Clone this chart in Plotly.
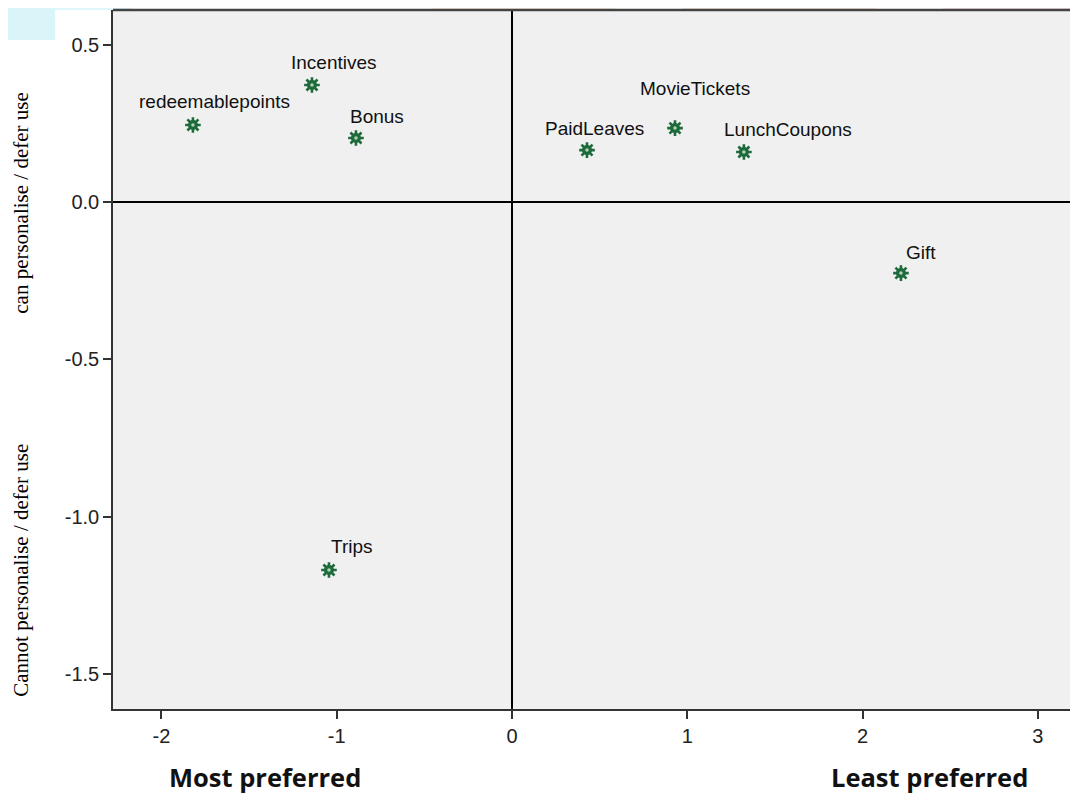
import plotly.graph_objects as go

labels = ["redeemablepoints", "Incentives", "Bonus", "PaidLeaves", "MovieTickets",
          "LunchCoupons", "Gift", "Trips"]
dim1 = [-1.82, -1.141, -0.890, 0.428, 0.930, 1.323, 2.219, -1.044]
dim2 = [0.245, 0.372, 0.2035, 0.165, 0.235, 0.159, -0.226, -1.170]
# label offsets in pixels (x, y)
label_dx = [22, 22, 21, 7, 20, 44, 20, 23]
label_dy = [23, 23, 22, 22, 40, 23, 21, 23]

x_ticks = [-2, -1, 0, 1, 2, 3]
y_ticks = [0.5, 0.0, -0.5, -1.0, -1.5]

green = "#1d6b3a"
fig = go.Figure()
fig.add_trace(go.Scatter(x=dim1, y=dim2, mode="markers", hoverinfo="skip",
                         marker=dict(symbol="asterisk-open", size=13, color=green,
                                     line=dict(color=green, width=2.6))))
fig.add_trace(go.Scatter(x=dim1, y=dim2, mode="markers",
                         marker=dict(symbol="circle", size=10, color=green,
                                     line=dict(width=0))))
fig.add_trace(go.Scatter(x=dim1, y=dim2, mode="markers", hoverinfo="skip",
                         marker=dict(symbol="circle", size=3.5, color="#b5d2bd",
                                     line=dict(width=0))))

for lab, x, y, dx, dy in zip(labels, dim1, dim2, label_dx, label_dy):
    fig.add_annotation(x=x, y=y, text=lab, showarrow=False, xshift=dx, yshift=dy,
                       font=dict(family="Liberation Sans, Arial", size=19, color="#111"))

# axis title annotations
fig.add_annotation(xref="paper", yref="paper", x=-0.0955, y=0.724, text="can personalise / defer use",
                   textangle=-90, showarrow=False, xanchor="center", yanchor="middle",
                   font=dict(family="Liberation Serif, Times New Roman", size=21, color="#000"))
fig.add_annotation(xref="paper", yref="paper", x=-0.0955, y=0.199, text="Cannot personalise / defer use",
                   textangle=-90, showarrow=False, xanchor="center", yanchor="middle",
                   font=dict(family="Liberation Serif, Times New Roman", size=21, color="#000"))
fig.add_annotation(xref="paper", yref="paper", x=0.1575, y=-0.0973, text="<b>Most preferred</b>",
                   showarrow=False, xanchor="center", yanchor="middle",
                   font=dict(family="Open Sans", size=25.5, color="#111"))
fig.add_annotation(xref="paper", yref="paper", x=0.8466, y=-0.0973, text="<b>Least preferred</b>",
                   showarrow=False, xanchor="center", yanchor="middle",
                   font=dict(family="Open Sans", size=25.5, color="#111"))

# top border of the plot frame
fig.add_shape(type="line", xref="paper", yref="paper", x0=0, x1=1, y0=1, y1=1,
              line=dict(color="#444", width=2.5))
# faint slide background blobs at the top
fig.add_shape(type="rect", xref="paper", yref="paper", x0=-0.117, x1=-0.06, y0=0.957, y1=1.0143,
              fillcolor="rgba(150,225,240,0.35)", line=dict(width=0), layer="below")
fig.add_shape(type="rect", xref="paper", yref="paper", x0=-0.06, x1=0.02, y0=1.0, y1=1.0143,
              fillcolor="rgba(150,225,240,0.3)", line=dict(width=0), layer="below")
fig.add_shape(type="rect", xref="paper", yref="paper", x0=0.33, x1=0.52, y0=1.0, y1=1.0143,
              fillcolor="rgba(250,205,170,0.35)", line=dict(width=0), layer="below")
fig.add_shape(type="rect", xref="paper", yref="paper", x0=0.59, x1=0.79, y0=1.0, y1=1.0143,
              fillcolor="rgba(250,190,170,0.35)", line=dict(width=0), layer="below")
fig.add_shape(type="rect", xref="paper", yref="paper", x0=0.86, x1=1.0, y0=1.0, y1=1.0143,
              fillcolor="rgba(250,180,180,0.35)", line=dict(width=0), layer="below")

# page body has an 8px margin: size the figure so the plot lands where the reference has it
fig.update_layout(
    width=1070, height=786,
    margin=dict(l=105, r=0, t=2, b=85),
    paper_bgcolor="white", plot_bgcolor="#f0f0f0",
    showlegend=False,
    font=dict(family="Liberation Sans, Arial", size=20, color="#222"),
    xaxis=dict(range=[-2.276, 3.229], tickvals=x_ticks, ticktext=[str(v) for v in x_ticks],
               showgrid=False, zeroline=True, zerolinecolor="#000", zerolinewidth=1.5,
               showline=True, linecolor="#333", linewidth=1.5,
               ticks="outside", ticklen=8, tickcolor="#333", tickwidth=1.5),
    yaxis=dict(range=[-1.612, 0.6105], tickvals=y_ticks, ticktext=[f"{v:.1f}" for v in y_ticks],
               showgrid=False, zeroline=True, zerolinecolor="#000", zerolinewidth=1.5,
               showline=True, linecolor="#333", linewidth=1.5,
               ticks="outside", ticklen=8, tickcolor="#333", tickwidth=1.5),
)

fig.write_html("out.html")
